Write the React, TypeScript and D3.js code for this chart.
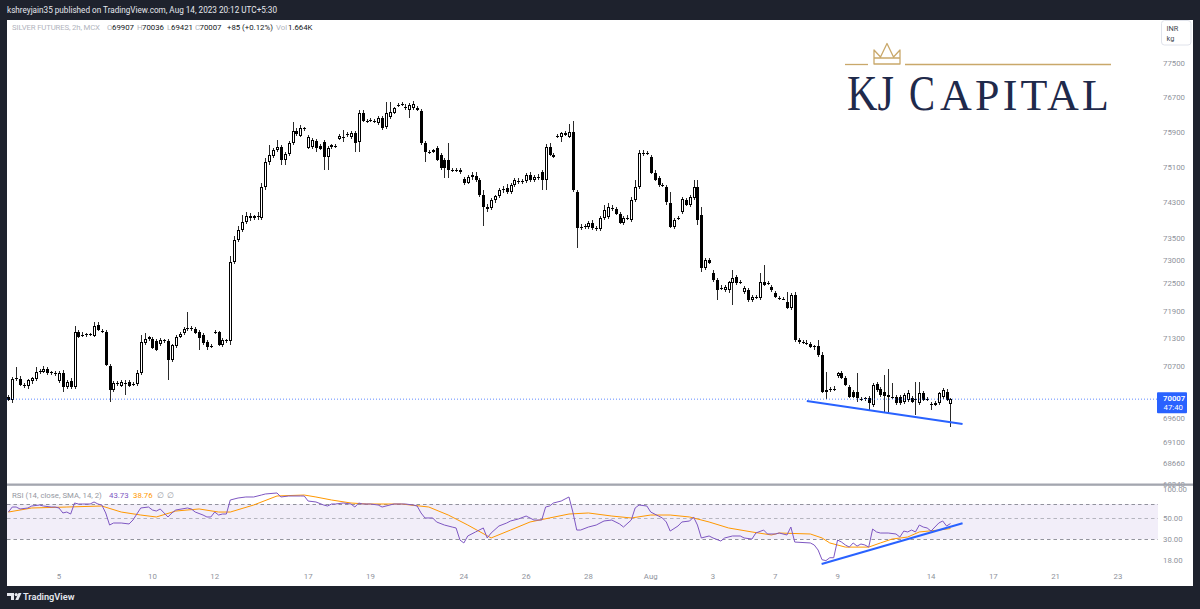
import React from "react";
import * as d3 from "d3";

// Silver futures (MCX), 2h bars, 8 bars per session. First visible bar is bar 3 of Jul 3.
const firstBar = 3;

// [open, high, low, close]
const candles: [number, number, number, number][] = [
  // Jul 3
  [70055,70097,69970,69991],[69991,70479,69928,70436],[70436,70692,70394,70458],[70436,70500,70288,70309],[70309,70351,70245,70288],
  // Jul 4
  [70288,70436,70224,70415],[70394,70479,70330,70458],[70436,70692,70394,70585],[70585,70649,70543,70607],
  [70585,70713,70564,70649],[70649,70692,70522,70564],[70564,70607,70522,70585],[70564,70607,70500,70543],
  // Jul 5
  [70394,70607,70351,70564],[70564,70628,70161,70267],[70267,70415,70224,70373],[70394,70458,70224,70267],
  [70267,71573,70224,71444],[71444,71487,71314,71336],[71357,71444,71336,71379],[71379,71422,71336,71390],
  // Jul 6
  [71379,71422,71357,71400],[71357,71660,71336,71573],[71595,71660,71465,71487],[71465,71509,71422,71444],
  [71444,71487,70713,70735],[70713,70756,69949,70203],[70203,70394,70161,70351],[70351,70394,70288,70330],
  // Jul 7
  [70288,70415,70267,70373],[70330,70415,70097,70351],[70373,70415,70267,70288],[70309,70373,70288,70330],
  [70330,70628,70288,70564],[70564,71379,70522,71228],[71207,71422,71164,71293],[71293,71357,71250,71336],
  // Jul 10
  [71293,71336,71078,71099],[71250,71293,71035,71056],[71185,71314,71142,71271],[71250,71293,71207,71271],
  [71250,71293,70415,70842],[70842,71185,70799,71164],[71142,71379,71099,71336],[71336,71444,71314,71400],
  // Jul 11
  [71422,71552,71379,71509],[71509,71876,71465,71530],[71509,71573,71465,71530],[71509,71552,71400,71422],
  [71444,71487,71056,71314],[71379,71422,71164,71207],[71228,71271,71056,71121],[71142,71185,71099,71121],
  // Jul 12
  [71422,71487,71400,71444],[71444,71465,71142,71164],[71164,71314,71121,71271],[71250,71293,71207,71260],
  [71250,73103,71164,72971],[72971,73547,72927,73458],[73458,73769,73414,73680],[73680,74015,73636,73858],
  // Jul 13
  [73858,74082,73814,73993],[73993,74060,73881,73948],[73948,74015,73903,73993],[73993,74082,73903,73970],
  [73948,74734,73903,74644],[74644,75300,74576,75210],[75210,75597,75142,75369],[75346,75529,75300,75483],
  // Jul 14
  [75483,75711,75437,75551],[75551,75597,75142,75255],[75255,75437,75142,75392],[75392,75688,75346,75643],
  [75643,76124,75597,75917],[75917,75986,75803,75849],[75803,76055,75780,75986],[75963,76009,75917,75986],
  // Jul 17
  [75529,75826,75506,75780],[75551,75757,75506,75711],[75688,75734,75437,75529],[75574,75620,75483,75506],
  [75665,75711,75028,75323],[75323,75574,75028,75529],[75551,75620,75506,75597],[75574,75620,75529,75560],
  // Jul 18
  [75734,75849,75711,75803],[75780,75940,75665,75790],[75826,75894,75780,75849],[75780,75917,75734,75871],
  [75871,75917,75437,75643],[75665,76400,75437,76331],[76331,76400,76124,76147],[76147,76193,76101,76140],
  // Jul 19
  [76170,76216,76124,76160],[76147,76193,76101,76140],[76101,76262,76055,76216],[76216,76262,75940,75986],
  [76009,76585,75963,76331],[76239,76585,76193,76354],[76331,76469,76308,76446],[76492,76562,76469,76510],
  // Jul 20
  [76515,76585,76492,76538],[76469,76538,76400,76446],[76400,76562,76216,76515],[76446,76608,76400,76538],
  [76446,76492,76377,76400],[76377,76423,75597,75643],[75643,75688,75210,75437],[75437,75483,75392,75430],
  // Jul 21
  [75437,75506,75415,75483],[75529,75574,75232,75255],[75369,75415,75028,75073],[75255,75300,74847,75073],
  [75255,75643,74847,75028],[75028,75073,74983,75020],[75028,75073,74983,75005],[75028,75073,74938,74983],
  // Jul 24
  [74825,74870,74689,74734],[74734,74915,74712,74870],[74870,74983,74802,74915],[74893,74983,74757,74802],
  [74802,74847,74419,74464],[74464,74576,73769,74194],[74194,74261,74082,74150],[74172,74396,74127,74351],
  // Jul 25
  [74351,74464,74284,74441],[74441,74621,74396,74576],[74576,74666,74509,74599],[74621,74712,74486,74531],
  [74531,74734,74486,74689],[74689,74847,74644,74802],[74780,74847,74712,74757],[74757,74825,74712,74780],
  // Jul 26
  [74780,74960,74734,74915],[74915,74983,74757,74802],[74802,74915,74757,74870],[74870,74938,74802,74847],
  [74983,75028,74576,74802],[74802,75620,74576,75551],[75551,75643,75346,75369],[75369,75415,75300,75323],
  // Jul 27
  [75780,75849,75757,75803],[75780,75894,75665,75871],[75871,75917,75803,75826],[75780,76078,75757,75894],
  [75894,76147,74531,74576],[74531,74576,73281,73725],[73747,73814,73680,73740],[73747,73814,73702,73769],
  // Jul 28
  [73747,73881,73702,73836],[73836,73903,73680,73725],[73725,73769,73658,73702],[73702,73993,73658,73948],
  [73948,74239,73903,74127],[73970,74284,73925,74194],[74172,74239,74105,74180],[74150,74194,74015,74038],
  // Jul 31
  [74038,74082,73814,73836],[73836,73993,73792,73948],[73948,74015,73903,73940],[73903,74419,73858,74351],
  [74351,74802,74306,74644],[74644,75483,74599,75415],[75415,75483,75346,75400],[75415,75460,75369,75405],
  // Aug 1
  [75323,75369,74938,74960],[74960,75028,74780,74802],[74847,74893,74644,74689],[74689,74734,74644,74666],
  [74644,74689,74239,74306],[74284,74531,73725,73747],[73747,73948,73702,73903],[73925,73993,73903,73948],
  // Aug 2
  [74082,74419,74038,74374],[74351,74396,74216,74239],[74239,74464,74194,74419],[74396,74802,74351,74644],
  [74644,74802,73792,73903],[74015,74194,72751,72839],[72839,73059,72795,73015],[73015,73059,72927,72949],
  // Aug 3
  [72729,72795,72531,72575],[72575,72619,72138,72356],[72400,72465,72356,72395],[72356,72465,72312,72422],
  [72356,72553,72290,72531],[72509,72795,72029,72619],[72641,72685,72465,72509],[72531,72575,72487,72525],
  // Aug 4
  [72312,72443,72268,72400],[72356,72400,72094,72138],[72138,72247,72094,72203],[72203,72247,72160,72196],
  [72181,72729,72138,72531],[72531,72905,72443,72465],[72509,72553,72465,72500],[72422,72465,72312,72356],
  // Aug 7
  [72290,72334,72181,72203],[72181,72225,72138,72174],[72160,72203,72138,72152],[72094,72312,71941,71963],
  [71963,72290,71920,72247],[72247,72312,71228,71271],[71271,71314,71185,71228],[71228,71271,71185,71210],
  // Aug 8
  [71207,71271,71164,71185],[71185,71228,71099,71121],[71121,71164,71056,71142],[71142,71271,70906,70949],
  [70949,71013,70139,70161],[70161,70585,70012,70203],[70203,70267,70161,70224],[70224,70288,70182,70230],
  // Aug 9
  [70500,70585,70458,70564],[70564,70607,70436,70458],[70458,70500,70288,70309],[70267,70309,70033,70055],
  [70161,70203,70033,70055],[70161,70564,69949,70033],[70012,70055,69970,70005],[70012,70055,69970,70030],
  // Aug 10
  [70033,70076,69780,69928],[69886,70351,69844,70309],[70330,70373,70161,70203],[70224,70267,70055,70097],
  [70161,70522,69738,70076],[70055,70649,69717,70097],[70055,70351,70012,70050],[70055,70097,69886,69928],
  // Aug 11
  [70055,70097,69886,69928],[69949,70139,69907,70097],[69991,70203,69949,70139],[70033,70076,69928,69949],
  [70012,70373,69675,69991],[69928,70373,69886,70139],[70139,70182,69970,69991],[70012,70055,69970,70020],
  // Aug 14
  [69907,69949,69780,69886],[69886,69970,69865,69928],[69928,70161,69886,70139],[70055,70245,70012,70203],
  [70161,70224,69970,69991],[69907,70036,69421,70007],
];

const lastClose = 70007;

// date labels on the time axis (bar index of the first bar of that session)
const xTickBars = [16, 40, 56, 80, 96, 120, 136, 152, 168, 184, 200, 216, 240, 256, 272, 288];
const xTickLabels = ["5", "10", "12", "17", "19", "24", "26", "28", "Aug", "3", "7", "9", "14", "17", "21", "23"];

const priceTicks = [77500, 76700, 75900, 75100, 74300, 73500, 73000, 72500, 71900, 71300, 70700, 70100, 69600, 69100, 68660, 68240];
const rsiTicks = [100, 50, 30, 18];

// RSI(14) and its SMA(14), [bar, value]
const rsiPoints: [number, number][] = [
  [3,57.7],[4,65.1],[5,65.1],[6,62.1],[8,63.6],[9,66.7],[11,68.3],[12,66.7],[14,65.1],[15,65.1],[16,63.6],[17,56.4],
  [18,57.7],[19,55.0],[20,71.7],[21,70],[22,70],[24,70],[25,73.5],[26,70],[27,68.3],[28,56.4],[29,42.2],[30,44.3],
  [32,44.3],[34,43.3],[35,47.6],[37,63.6],[39,65.1],[40,60.6],[41,59.1],[42,62.1],[43,56.4],[44,51.2],[45,56.4],
  [46,60.6],[49,63.6],[50,62.1],[51,57.7],[53,53.7],[54,51.2],[55,51.2],[56,57.7],[57,53.7],[58,55.0],[59,55.0],
  [60,77.1],[62,80.9],[64,82.9],[66,82.9],[68,86.9],[69,89.1],[72,91.3],[73,82.9],[75,84.9],[78,84.9],[79,84.9],
  [80,75.2],[82,73.5],[84,68.3],[85,66.7],[86,70],[87,70],[89,71.7],[91,70],[92,65.1],[93,71.7],[94,70],[96,70],
  [98,68.3],[99,65.1],[100,66.7],[102,70],[104,70],[105,70],[107,68.3],[108,66.7],[109,56.4],[110,50],[112,50],
  [113,45.4],[115,42.2],[117,40.2],[118,39.3],[119,29.4],[120,27.4],[121,32.4],[123,35.7],[125,39.3],[126,30.9],
  [127,34.8],[129,41.2],[131,44.3],[132,46.5],[134,48.8],[136,52.4],[138,47.6],[140,47.6],[141,65.1],[142,66.7],
  [143,71.7],[145,75.2],[146,79.0],[147,82.9],[148,57.7],[149,37.4],[150,37.4],[152,40.2],[154,42.2],[156,46.5],
  [158,47.6],[160,43.3],[161,40.2],[163,47.6],[164,63.6],[165,68.3],[167,66.7],[168,57.7],[170,52.4],[171,50],
  [172,45.4],[173,36.5],[175,41.2],[176,45.4],[178,46.5],[179,51.2],[180,42.2],[181,30.9],[183,32.4],[184,30.9],
  [186,28.7],[187,30.9],[189,32.4],[191,32.4],[192,30.9],[194,30.1],[195,34.8],[197,37.4],[198,34.0],[200,34.0],
  [201,34.8],[203,33.2],[204,40.2],[205,28.0],[209,27.4],[210,26.1],[211,23.1],[212,18.3],[213,17.9],[214,19.2],
  [215,19.2],[216,29.4],[217,28.0],[218,26.1],[219,24.8],[220,27.4],[221,25.4],[222,26.7],[223,26.1],[224,24.8],
  [225,38.3],[226,35.7],[227,34.8],[229,34.8],[231,34.0],[232,31.6],[233,36.5],[234,35.7],[235,37.4],[236,35.7],
  [237,42.2],[238,40.2],[239,39.3],[240,36.5],[242,44.3],[243,46.5],[244,41.2],[245,43.73],
];
const rsiSmaPoints: [number, number][] = [
  [3,57.7],[9,63.6],[18,65.1],[27,66.7],[32,57.7],[37,53.7],[41,51.2],[46,59.1],[52,62.1],[57,57.7],[60,57.7],
  [66,68.3],[72,84.9],[79,86.9],[82,82.9],[86,77.1],[91,71.7],[95,70],[104,70],[111,65.1],[116,53.7],[121,42.2],
  [127,30.9],[132,37.4],[137,45.4],[142,50],[147,55],[152,56.4],[158,52.4],[163,50],[168,53.7],[173,53.7],
  [178,51.2],[183,45.4],[188,39.3],[194,35.7],[199,33.2],[201,34.8],[209,34],[212,30.9],[214,27.4],[218,24.8],
  [224,24.8],[227,27.4],[230,30.1],[234,31.6],[237,35.7],[242,37.4],[245,38.76],
];

// hand-drawn trend lines, [bar, value]
const priceTrend: [number, number][] = [[208.1, 69970], [248.1, 69485]];
const rsiTrend: [number, number][] = [[211.9, 16.5], [248.1, 44.0]];

const W = 1200;
const H = 609;
const font = "Roboto, 'Liberation Sans', sans-serif";
const frame = "#1e222d";

export default function App() {
  const paneL = 7, paneR = 1157;
  const priceTop = 20, priceBot = 483.5;
  const rsiTop = 486, rsiBot = 566;

  const x = d3.scaleLinear().domain([0, 300]).range([-3.3, -3.3 + 300 * 3.893]);
  const y = d3.scaleLog().domain([69100, 77500]).range([442.3, 62.7]);
  const ry = d3.scaleLog().domain([18, 100]).range([560.4, 489.2]);

  const rsiLine = d3.line<[number, number]>().x(d => x(d[0])).y(d => ry(d[1]));
  const lastY = y(lastClose);

  return (
    <svg width={W} height={H} style={{ position: "absolute", left: 0, top: 0 }} fontFamily={font}>
      <defs>
        <clipPath id="pp"><rect x={paneL} y={priceTop} width={paneR - paneL} height={priceBot - priceTop} /></clipPath>
        <clipPath id="rp"><rect x={paneL} y={rsiTop} width={paneR - paneL} height={rsiBot - rsiTop} /></clipPath>
      </defs>
      <rect width={W} height={H} fill={frame} />
      <rect x={7} y={20} width={1186} height={566} fill="#fff" />

      {/* header */}
      <text x={7} y={13} fontSize={8.2} fill="#e6e8ee" textLength={270} lengthAdjust="spacingAndGlyphs">kshreyjain35 published on TradingView.com, Aug 14, 2023 20:12 UTC+5:30</text>

      {/* watermark logo */}
      <g>
        <line x1={845} x2={868} y1={64.5} y2={64.5} stroke="#c9a86a" strokeWidth={1.3} />
        <line x1={905} x2={1111} y1={64.5} y2={64.5} stroke="#c9a86a" strokeWidth={1.3} />
        <path d="M874,64 L874,50 L880.5,57 L887,43.5 L893.5,57 L900,50 L900,64 Z M874,58 L900,58" fill="none" stroke="#c9a86a" strokeWidth={1.3} strokeLinejoin="round" />
        <text x={847} y={110} fontFamily="'Liberation Serif', serif" fontSize={50} fill="#1f2a4b" textLength={47} lengthAdjust="spacingAndGlyphs">KJ</text>
        <text x={909} y={110} fontFamily="'Liberation Serif', serif" fontSize={50} fill="#1f2a4b" textLength={26} lengthAdjust="spacingAndGlyphs">C</text>
        <text x={940} y={110} fontFamily="'Liberation Serif', serif" fontSize={44} fill="#1f2a4b" textLength={169} lengthAdjust="spacing">APITAL</text>
      </g>

      {/* legend */}
      <g fontSize={7.8}>
        <text x={12} y={30} fill="#b2b5be" textLength={88} lengthAdjust="spacing">SILVER FUTURES, 2h, MCX</text>
        <text x={107} y={30} fill="#b2b5be">O</text>
        <text x={112} y={30} fill="#131722">69907</text>
        <text x={137} y={30} fill="#b2b5be">H</text>
        <text x={142} y={30} fill="#131722">70036</text>
        <text x={167} y={30} fill="#b2b5be">L</text>
        <text x={171} y={30} fill="#131722">69421</text>
        <text x={195} y={30} fill="#b2b5be">C</text>
        <text x={199.5} y={30} fill="#131722">70007</text>
        <text x={227} y={30} fill="#131722">+85 (+0.12%)</text>
        <text x={276} y={30} fill="#b2b5be">Vol</text>
        <text x={288} y={30} fill="#131722">1.664K</text>
      </g>

      {/* price axis */}
      <g fontSize={7.8} fill="#8f939c">
        {priceTicks.map(p => (
          <text key={p} x={1163} y={y(p) + 2.8}>{p}</text>
        ))}
      </g>
      <rect x={1161.5} y={20.5} width={29.5} height={24.5} rx={3} fill="#fff" stroke="#e0e3eb" />
      <text x={1166.5} y={30.5} fontSize={7.4} fill="#434651">INR</text>
      <text x={1166.5} y={40.5} fontSize={7.4} fill="#434651">kg</text>

      {/* candles */}
      <g clipPath="url(#pp)">
        {candles.map((d, k) => {
          const i = firstBar + k;
          const cx = Math.round(x(i));
          const [o, h, l, c] = d;
          const up = c >= o;
          const top = Math.round(y(Math.max(o, c)));
          const bh = Math.max(1, Math.round(y(Math.min(o, c))) - top);
          return (
            <g key={k}>
              <line x1={cx + 0.5} x2={cx + 0.5} y1={Math.round(y(h))} y2={Math.round(y(l))} stroke="#2a2a2a" strokeWidth={1} />
              <rect x={cx - 1} y={top} width={3} height={bh} fill="#000" />
              {up && bh > 2 && <rect x={cx} y={top + 1} width={1} height={bh - 2} fill="#fff" />}
            </g>
          );
        })}
        <line x1={paneL} x2={paneR} y1={lastY} y2={lastY} stroke="#2962ff" strokeOpacity={0.75} strokeDasharray="1,2" />
        <line x1={x(priceTrend[0][0])} y1={y(priceTrend[0][1])} x2={x(priceTrend[1][0])} y2={y(priceTrend[1][1])} stroke="#2962ff" strokeWidth={2} />
      </g>

      {/* last price label */}
      <rect x={1157} y={lastY - 7} width={30} height={21} fill="#2962ff" rx={1} />
      <text x={1163} y={lastY + 1.5} fontSize={7.8} fill="#fff" fontWeight={600}>70007</text>
      <text x={1163.5} y={lastY + 10.5} fontSize={7.8} fill="#fff">47:40</text>

      {/* pane separator */}
      <rect x={7} y={483.5} width={1186} height={2.3} fill="#a3a6af" />

      {/* RSI pane */}
      <rect x={paneL} y={ry(70)} width={1158 - paneL} height={ry(30) - ry(70)} fill="#7e57c2" fillOpacity={0.1} />
      {[70, 50, 30].map(v => (
        <line key={v} x1={paneL} x2={1158} y1={Math.round(ry(v)) + 0.5} y2={Math.round(ry(v)) + 0.5}
          stroke="#787b86" strokeOpacity={v === 50 ? 0.5 : 0.8} strokeDasharray="3.5,3" />
      ))}
      <g clipPath="url(#rp)">
        <path d={rsiLine(rsiSmaPoints) ?? ""} fill="none" stroke="#ff9800" strokeWidth={1} />
        <path d={rsiLine(rsiPoints) ?? ""} fill="none" stroke="#7e57c2" strokeWidth={1} />
        <line x1={x(rsiTrend[0][0])} y1={ry(rsiTrend[0][1])} x2={x(rsiTrend[1][0])} y2={ry(rsiTrend[1][1])} stroke="#2962ff" strokeWidth={2} />
      </g>
      <g fontSize={7.8}>
        <text x={12} y={497.5} fill="#9598a1">RSI (14, close, SMA, 14, 2)</text>
        <text x={109} y={497.5} fill="#7e57c2">43.73</text>
        <text x={133} y={497.5} fill="#ff9800">38.76</text>
        <text x={157} y={497.5} fill="#9598a1">∅</text>
        <text x={167} y={497.5} fill="#9598a1">∅</text>
      </g>
      <g fontSize={7.8} fill="#8f939c">
        {rsiTicks.map(v => (
          <text key={v} x={1163} y={ry(v) + 2.8}>{v.toFixed(2)}</text>
        ))}
      </g>

      {/* time axis */}
      <g fontSize={7.8} fill="#8f939c" textAnchor="middle">
        {xTickBars.map((b, k) => (
          <text key={k} x={x(b)} y={579}>{xTickLabels[k]}</text>
        ))}
      </g>

      {/* footer */}
      <g fill="#e6e8ee">
        <path d="M7,593 h7 v7 h-3 v-4 h-4 Z" />
        <circle cx={16.2} cy={594.6} r={1.6} />
        <path d="M18.5,593 h3 l-3.2,7 h-3 Z" />
        <text x={23} y={600} fontSize={9.2} fontWeight={600}>TradingView</text>
      </g>
    </svg>
  );
}
